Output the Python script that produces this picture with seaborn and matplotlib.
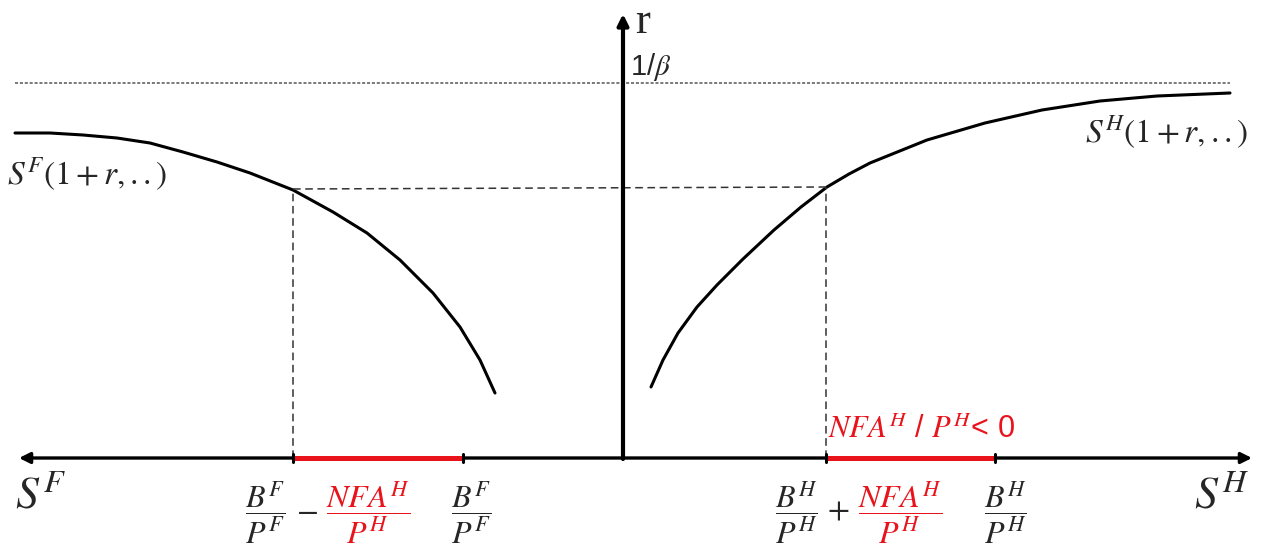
#!/usr/bin/env python3

import matplotlib
import pandas as pd
import seaborn as sns
from matplotlib import pyplot as plt

sns.set_style("white")
matplotlib.rcParams['mathtext.fontset'] = 'stix'
matplotlib.rcParams['font.family'] = ['Liberation Sans', 'DejaVu Sans']

# supply curves (x = S, y = r)
foreign_x = [-608, -573, -540, -506, -473, -440, -406, -373, -330, -290,
             -256, -223, -190, -163, -143, -128]
foreign_y = [325, 325, 323, 320, 315, 306, 296, 285, 268, 246,
             225, 198, 165, 131, 98, 65]
home_x = [28, 40, 55, 74, 94, 120, 151, 178, 204, 226, 247, 304, 362, 419, 477, 534, 607]
home_y = [71, 98, 125, 151, 173, 199, 228, 251, 271, 284, 295, 318, 335, 348, 357, 362, 365]

beta_r = 375            # 1/beta level
eq_r = [269, 271]       # equilibrium r on each side
eq_x = [-330, 203]      # S^F and S^H at equilibrium
bf_pf = -160            # B^F / P^F
bh_ph = 372             # B^H / P^H

x_axis = [-604, 629]
y_top = 444


def draw_axes(ax):
    style = dict(arrowstyle="-|>", color="black", mutation_scale=16,
                 shrinkA=0, shrinkB=0)
    ax.annotate("", xy=(x_axis[0], 0), xytext=(0, 0),
                arrowprops=dict(lw=2.4, **style), zorder=2)
    ax.annotate("", xy=(x_axis[1], 0), xytext=(0, 0),
                arrowprops=dict(lw=2.4, **style), zorder=2)
    ax.annotate("", xy=(0, y_top), xytext=(0, -1),
                arrowprops=dict(lw=3, **style), zorder=2)


def draw_curves(ax):
    df_f = pd.DataFrame({"S": foreign_x, "r": foreign_y})
    df_h = pd.DataFrame({"S": home_x, "r": home_y})
    sns.lineplot(data=df_f, x="S", y="r", sort=False, estimator=None,
                 color="black", lw=2.2, ax=ax)
    sns.lineplot(data=df_h, x="S", y="r", sort=False, estimator=None,
                 color="black", lw=2.2, ax=ax)

    # 1/beta line
    ax.plot([foreign_x[0], home_x[-1]], [beta_r, beta_r], color="#555555",
            lw=1.1, ls=(0, (2, 1.2)))
    # equilibrium box
    ax.plot([eq_x[0], eq_x[1]], eq_r, color="#333333", lw=1.1, ls=(0, (5, 3)))
    ax.plot([eq_x[0], eq_x[0]], [0, eq_r[0]], color="#333333", lw=1.1, ls=(0, (5, 3)))
    ax.plot([eq_x[1], eq_x[1]], [0, eq_r[1]], color="#333333", lw=1.1, ls=(0, (5, 3)))

    # NFA segments
    ax.plot([eq_x[0], bf_pf], [0, 0], color="#e8131b", lw=3.6,
            solid_capstyle="butt", zorder=4)
    ax.plot([eq_x[1], bh_ph], [0, 0], color="#e8131b", lw=3.6,
            solid_capstyle="butt", zorder=4)
    for tx in [eq_x[0], bf_pf, eq_x[1], bh_ph]:
        ax.plot([tx, tx], [-4, 4], color="black", lw=2.2, zorder=5)


def draw_labels(ax):
    red = "#e8131b"
    ax.text(20, 436, "r", fontsize=32, family="Liberation Serif",
            ha="center", va="center")
    ax.text(7, 391, r"1/$\beta$", fontsize=21, ha="left", va="center")
    ax.text(-616, 284, r"$S^F(1+r,..)$", fontsize=24, ha="left", va="center")
    ax.text(625, 326, r"$S^H(1+r,..)$", fontsize=24, ha="right", va="center")
    ax.text(-583, -38, r"$S^F$", fontsize=33, ha="center", va="center")
    ax.text(598, -37, r"$S^H$", fontsize=33, ha="center", va="center")

    frac_y = -55
    fs = 23
    ax.text(-358, frac_y, r"$\dfrac{B^F}{P^F}$", fontsize=fs, ha="center", va="center")
    ax.text(-316, frac_y + 2, r"$-$", fontsize=fs, ha="center", va="center")
    ax.text(-255, frac_y, r"$\dfrac{NFA^H}{P^H}$", fontsize=fs, ha="center",
            va="center", color=red)
    ax.text(-152, frac_y, r"$\dfrac{B^F}{P^F}$", fontsize=fs, ha="center", va="center")

    ax.text(173, frac_y, r"$\dfrac{B^H}{P^H}$", fontsize=fs, ha="center", va="center")
    ax.text(215, frac_y + 2, r"$+$", fontsize=fs, ha="center", va="center")
    ax.text(277, frac_y, r"$\dfrac{NFA^H}{P^H}$", fontsize=fs, ha="center",
            va="center", color=red)
    ax.text(382, frac_y, r"$\dfrac{B^H}{P^H}$", fontsize=fs, ha="center", va="center")

    ax.text(205, 28, r"$NFA^H$ / $P^H$< 0", fontsize=22, ha="left",
            va="center", color=red)


def main():
    fig = plt.figure(figsize=(12.61, 5.48), dpi=100)
    ax = fig.add_axes([0, 0, 1, 1])
    draw_curves(ax)
    draw_axes(ax)
    draw_labels(ax)
    ax.set_xlim(-623, 638)
    ax.set_ylim(-90, 458)
    ax.axis("off")
    plt.savefig("out.png", dpi=100)


if __name__ == "__main__":
    main()
